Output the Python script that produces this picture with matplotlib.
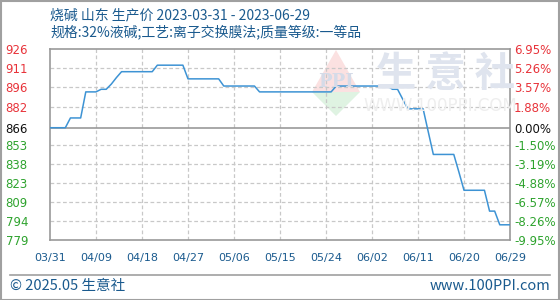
import matplotlib
matplotlib.use("Agg")
import matplotlib.pyplot as plt
from matplotlib.patches import Rectangle, Polygon

plt.rcParams['font.family'] = ['Noto Sans CJK SC', 'DejaVu Sans']

title1 = "烧碱 山东 生产价 2023-03-31 - 2023-06-29"
title2 = "规格:32%液碱;工艺:离子交换膜法;质量等级:一等品"
x_tick_labels = ["03/31", "04/09", "04/18", "04/27", "05/06", "05/15",
                 "05/24", "06/02", "06/11", "06/20", "06/29"]
base_price = 866
pct_ticks = [6.95, 5.26, 3.57, 1.88, 0.00, -1.50, -3.19, -4.88, -6.57, -8.26, -9.95]
left_labels = ["926", "911", "896", "882", "866", "853", "838", "823", "809", "794", "779"]
right_labels = ["6.95%", "5.26%", "3.57%", "1.88%", "0.00%", "-1.50%", "-3.19%",
                "-4.88%", "-6.57%", "-8.26%", "-9.95%"]
# daily prices 2023-03-31 .. 2023-06-29 (91 days)
prices = [866, 866, 866, 866, 873.5, 873.5, 873.5, 893.5, 893.5, 893.5,
          895.5, 895.5, 899.5, 904.5, 909, 909, 909, 909, 909, 909,
          909, 914, 914, 914, 914, 914, 914, 903.5, 903.5, 903.5,
          903.5, 903.5, 903.5, 903.5, 898, 898, 898, 898, 898, 898,
          898, 893.5, 893.5, 893.5, 893.5, 893.5, 893.5, 893.5, 893.5, 893.5,
          893.5, 893.5, 893.5, 893.5, 893.5, 893.5, 898, 898, 898, 898,
          898, 898, 898, 898, 898, 898, 898, 895.5, 895.5, 888,
          880.5, 880.5, 880.5, 880.5, 863, 845.5, 845.5, 845.5, 845.5, 845.5,
          832, 818, 818, 818, 818, 818, 802, 802, 791.5, 791.5,
          791.5]

days = list(range(len(prices)))
pct = [(p / base_price - 1) * 100 for p in prices]

W, H = 560, 300
fig = plt.figure(figsize=(W / 100, H / 100), dpi=100)
fig.patch.set_facecolor("white")

def fx(px):
    return px / W

def fy(py):
    return 1 - py / H

# outer frame
fig.add_artist(Rectangle((0.5 / W, 0.5 / H), 1 - 1.5 / W, 1 - 1.5 / H, transform=fig.transFigure,
                         fill=False, edgecolor="#a0a0a0", linewidth=1.5))

# watermark
wm_c = "#dfe4ee"
fig.add_artist(Polygon([(fx(312), fy(92)), (fx(360), fy(92)), (fx(336), fy(50))],
                       closed=True, transform=fig.transFigure, facecolor="#fbe1e1", edgecolor="none", zorder=0))
fig.add_artist(Polygon([(fx(312), fy(92)), (fx(360), fy(92)), (fx(336), fy(116))],
                       closed=True, transform=fig.transFigure, facecolor="#dff3e2", edgecolor="none", zorder=0))
fig.text(fx(336), fy(82), "PPI", color="#d5dbe8", fontsize=13, ha="center", va="center",
         family="DejaVu Serif", fontweight="bold", zorder=0)
fig.text(fx(445), fy(75), "生 意 社", color=wm_c, fontsize=29, ha="center", va="center",
         fontweight="bold", zorder=0)
fig.text(fx(440), fy(106), "WWW.100PPI.COM", color="#eeeeee", fontsize=12, ha="center",
         va="center", family="DejaVu Sans", zorder=0)

ax_left, ax_right, ax_top, ax_bot = 50, 510, 49.3, 240
ax = fig.add_axes([fx(ax_left), fy(ax_bot), (ax_right - ax_left) / W, (ax_bot - ax_top) / H])
ax.set_facecolor("none")
ax.set_xlim(0, 90)
ax.set_ylim(-9.95, 6.95)

# grid
for i in range(1, len(x_tick_labels) - 1):
    ax.axvline(i * 9, color="#c8c8c8", linestyle=(0, (3, 2)), linewidth=0.9, zorder=1)
for t in pct_ticks[1:-1]:
    if t != 0:
        ax.axhline(t, color="#c8c8c8", linestyle=(0, (3, 2)), linewidth=0.9, zorder=1)
ax.axhline(0, color="#999999", linewidth=1.2, zorder=1)

ax.plot(days, pct, color="#3d93d4", linewidth=1.1, zorder=3)

for s in ax.spines.values():
    s.set_color("#999999")
    s.set_linewidth(1.2)

ax.set_xticks([i * 9 for i in range(len(x_tick_labels))])
ax.set_xticklabels(x_tick_labels, fontsize=8, color="#1a5a8e", family="DejaVu Sans")
ax.tick_params(axis="x", length=0, pad=9)

def color_for(v):
    if v > 0:
        return "#e8333a"
    if v < 0:
        return "#2ea32e"
    return "#111111"

ax.set_yticks(pct_ticks)
ax.set_yticklabels(left_labels, fontsize=8.5, family="DejaVu Sans")
ax.tick_params(axis="y", length=0, pad=32)
for lab, v in zip(ax.get_yticklabels(), pct_ticks):
    lab.set_color(color_for(v))
    lab.set_horizontalalignment("left")

ax2 = ax.twinx()
ax2.set_ylim(ax.get_ylim())
ax2.set_yticks(pct_ticks)
ax2.set_yticklabels(right_labels, fontsize=8.5, family="DejaVu Sans")
ax2.tick_params(axis="y", length=0, pad=3)
for lab, v in zip(ax2.get_yticklabels(), pct_ticks):
    lab.set_color(color_for(v))
for s in ax2.spines.values():
    s.set_visible(False)

# titles
title_c = "#1a5a8e"
fig.text(fx(50), fy(15), title1, color=title_c, fontsize=10, ha="left", va="center")
fig.text(fx(50), fy(32), title2, color=title_c, fontsize=10, ha="left", va="center")

# footer
fig.add_artist(plt.Line2D([fx(10), fx(550)], [fy(275), fy(275)], transform=fig.transFigure,
                          color="#a0a0a0", linewidth=1.2))
fig.text(fx(10), fy(286), "© 2025.05 生意社", color=title_c, fontsize=10.5, ha="left", va="center")
fig.text(fx(550), fy(286), "www.100PPI.com", color=title_c, fontsize=10.5, ha="right", va="center")

fig.savefig("out.png", dpi=100, facecolor="white")
